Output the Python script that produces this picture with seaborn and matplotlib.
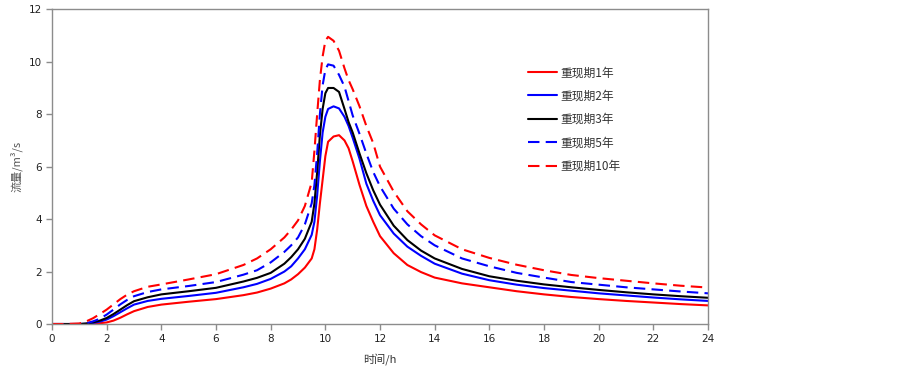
import numpy as np
import pandas as pd
import matplotlib
matplotlib.use("Agg")
import matplotlib.pyplot as plt
import seaborn as sns

# ---- data ----
time_h = [0, 0.5, 1.0, 1.25, 1.5, 1.75, 2.0, 2.25, 2.5, 2.75, 3.0, 3.5, 4.0,
          5.0, 6.0, 7.0, 7.5, 8.0, 8.5, 8.75, 9.0, 9.25, 9.5, 9.6, 9.7, 9.8,
          9.9, 10.0, 10.1, 10.3, 10.5, 10.7, 10.85, 11.0, 11.25, 11.5, 11.75,
          12.0, 12.5, 13.0, 13.5, 14.0, 15.0, 16.0, 17.0, 18.0, 19.0, 20.0,
          21.0, 22.0, 23.0, 24.0]

q_1yr = [0, 0, 0, 0, 0.01, 0.03, 0.06, 0.13, 0.24, 0.37, 0.49, 0.65, 0.74,
         0.85, 0.95, 1.1, 1.2, 1.35, 1.55, 1.7, 1.9, 2.15, 2.5, 2.85, 3.6, 4.6,
         5.5, 6.4, 6.95, 7.15, 7.2, 7.0, 6.7, 6.2, 5.3, 4.5, 3.9,
         3.35, 2.7, 2.25, 1.98, 1.77, 1.55, 1.4, 1.25, 1.13, 1.03, 0.95,
         0.88, 0.82, 0.76, 0.71]
q_2yr = [0, 0, 0, 0.01, 0.04, 0.09, 0.17, 0.3, 0.45, 0.6, 0.74, 0.88, 0.96,
         1.07, 1.19, 1.4, 1.53, 1.72, 2.0, 2.2, 2.5, 2.85, 3.4, 3.9, 4.9, 6.2,
         7.3, 7.9, 8.2, 8.3, 8.22, 7.9, 7.55, 7.1, 6.3, 5.35, 4.7,
         4.15, 3.45, 2.95, 2.6, 2.3, 1.92, 1.67, 1.5, 1.37, 1.27, 1.17,
         1.09, 1.01, 0.94, 0.88]
q_3yr = [0, 0, 0, 0.02, 0.06, 0.13, 0.23, 0.38, 0.55, 0.72, 0.87, 1.02, 1.13,
         1.25, 1.38, 1.62, 1.76, 1.95, 2.3, 2.55, 2.85, 3.25, 3.9, 4.6, 5.8, 7.2,
         8.2, 8.8, 9.0, 9.0, 8.85, 8.2, 7.7, 7.3, 6.5, 5.75, 5.1,
         4.55, 3.75, 3.2, 2.8, 2.5, 2.1, 1.82, 1.65, 1.51, 1.4, 1.3,
         1.21, 1.13, 1.06, 1.0]
q_5yr = [0, 0, 0, 0.03, 0.1, 0.2, 0.36, 0.55, 0.75, 0.92, 1.06, 1.22, 1.32,
         1.45, 1.6, 1.88, 2.05, 2.35, 2.75, 3.0, 3.3, 3.8, 4.6, 5.3, 6.5, 8.0,
         9.1, 9.7, 9.9, 9.85, 9.5, 9.05, 8.5, 7.95, 7.25, 6.5, 5.8,
         5.25, 4.4, 3.8, 3.35, 3.0, 2.5, 2.2, 1.95, 1.77, 1.6, 1.5,
         1.4, 1.32, 1.24, 1.17]
q_10yr = [0, 0, 0.02, 0.1, 0.22, 0.38, 0.55, 0.75, 0.95, 1.12, 1.25, 1.42, 1.51,
          1.7, 1.9, 2.25, 2.5, 2.85, 3.3, 3.6, 3.95, 4.5, 5.4, 6.6, 8.0, 9.3,
          10.2, 10.8, 10.95, 10.8, 10.42, 9.75, 9.3, 8.95, 8.3, 7.55, 6.9,
          6.0, 5.05, 4.3, 3.8, 3.38, 2.85, 2.52, 2.26, 2.05, 1.87, 1.75,
          1.65, 1.55, 1.46, 1.39]

labels = ["重现期1年", "重现期2年", "重现期3年", "重现期5年", "重现期10年"]
series = [q_1yr, q_2yr, q_3yr, q_5yr, q_10yr]
x_ticks = list(range(0, 25, 2))
y_ticks = list(range(0, 13, 2))

# long-form table for seaborn
df = pd.concat(
    [pd.DataFrame({"t": time_h, "q": s, "label": lab}) for lab, s in zip(labels, series)],
    ignore_index=True,
)

sns.set_style("white")
plt.rcParams["font.family"] = ["DejaVu Sans", "Noto Sans CJK SC"]

palette = dict(zip(labels, ["#FF0000", "#0000FF", "#000000", "#0000FF", "#FF0000"]))
dashes = dict(zip(labels, ["", "", "", (5.5, 3), (5.5, 3)]))

fig = plt.figure(figsize=(9.03, 3.72), dpi=100)
ax = fig.add_axes([0.0576, 0.129, 0.7265, 0.846])

sns.lineplot(data=df, x="t", y="q", hue="label", style="label",
             palette=palette, dashes=dashes, estimator=None, sort=False,
             linewidth=1.5, ax=ax)

ax.set_xlim(0, 24)
ax.set_ylim(0, 12)
ax.set_xticks(x_ticks)
ax.set_yticks(y_ticks)

for sp in ax.spines.values():
    sp.set_color("#8c8c8c")
    sp.set_linewidth(1.0)
ax.tick_params(axis="both", direction="out", length=4, width=1.0,
               color="#8c8c8c", labelsize=7.5, labelcolor="#222222",
               bottom=True, left=True)

ax.set_xlabel("时间/h", fontsize=8, color="#333333", labelpad=6,
              family=["Noto Sans CJK SC", "DejaVu Sans"])
ax.set_ylabel("流量/m³/s", fontsize=8, color="#555555", labelpad=4,
              family=["Noto Sans CJK SC", "DejaVu Sans"])

leg = ax.legend(loc="upper left", bbox_to_anchor=(0.71, 0.853), frameon=False,
                handlelength=2.4, handletextpad=0.3, labelspacing=0.88,
                prop={"family": ["Noto Sans CJK SC", "DejaVu Sans"], "size": 8.5})
for txt in leg.get_texts():
    txt.set_color("#333333")

fig.savefig("out.png", dpi=100)
